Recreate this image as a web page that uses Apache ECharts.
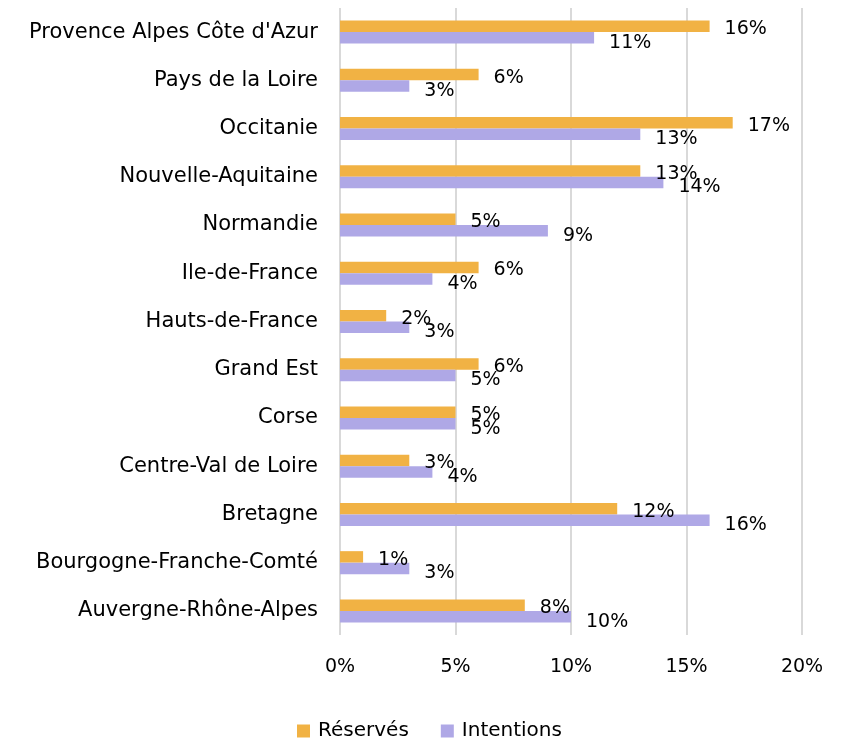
<!DOCTYPE html>
<html>
<head>
<meta charset="utf-8">
<script src="https://cdn.jsdelivr.net/npm/echarts@6/dist/echarts.min.js"></script>
<style>
  html, body { margin: 0; padding: 0; background: #fff; }
  #chart { width: 846px; height: 740px; }
</style>
</head>
<body>
<div id="chart"></div>
<script>
// regions, listed bottom to top as on the axis
const regions = [
  'Auvergne-Rhône-Alpes',
  'Bourgogne-Franche-Comté',
  'Bretagne',
  'Centre-Val de Loire',
  'Corse',
  'Grand Est',
  'Hauts-de-France',
  'Ile-de-France',
  'Normandie',
  'Nouvelle-Aquitaine',
  'Occitanie',
  'Pays de la Loire',
  "Provence Alpes Côte d'Azur"
];
const reserves = [8, 1, 12, 3, 5, 6, 2, 6, 5, 13, 17, 6, 16];
const intentions = [10, 3, 16, 4, 5, 5, 3, 4, 9, 14, 13, 3, 11];
const xTicks = [0, 5, 10, 15, 20];

const FONT = 'DejaVu Sans';

const chart = echarts.init(document.getElementById('chart'));

function barLabel(dy) {
  return {
    show: true,
    position: 'right',
    distance: 0,
    offset: [15, dy],
    color: '#000',
    fontFamily: FONT,
    fontSize: 19,
    formatter: (p) => p.value + '%'
  };
}

chart.setOption({
  animation: false,
  textStyle: { fontFamily: FONT },
  grid: {
    left: 340,
    right: 44,
    top: 8,
    height: 627
  },
  legend: {
    data: ['Réservés', 'Intentions'],
    top: 716,
    left: 292,
    itemWidth: 13,
    itemHeight: 13,
    itemGap: 32,
    icon: 'rect',
    textStyle: { fontFamily: FONT, fontSize: 20, color: '#000', padding: [0, 0, 0, 3] }
  },
  xAxis: {
    type: 'value',
    min: xTicks[0],
    max: xTicks[xTicks.length - 1],
    interval: 5,
    axisLine: { show: false },
    axisTick: { show: false },
    axisLabel: {
      margin: 23,
      color: '#000',
      fontFamily: FONT,
      fontSize: 19,
      formatter: (v) => v + '%'
    },
    splitLine: { lineStyle: { color: '#d9d9d9', width: 2 } }
  },
  yAxis: {
    type: 'category',
    data: regions,
    axisLine: { show: false },
    axisTick: { show: false },
    axisLabel: {
      margin: 22,
      color: '#000',
      fontFamily: FONT,
      fontSize: 21
    }
  },
  series: [
    {
      name: 'Réservés',
      type: 'bar',
      data: reserves,
      barWidth: 11.5,
      barGap: '0%',
      itemStyle: { color: '#F1B244' },
      label: barLabel(3)
    },
    {
      name: 'Intentions',
      type: 'bar',
      data: intentions,
      barWidth: 11.5,
      barGap: '0%',
      itemStyle: { color: '#AFA8E6' },
      label: barLabel(5)
    }
  ]
});
</script>
</body>
</html>
